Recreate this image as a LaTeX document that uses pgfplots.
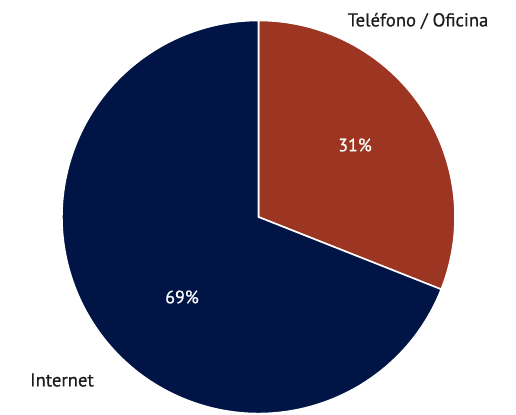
\documentclass[border=0pt]{standalone}
\usepackage{pgfplots}
\pgfplotsset{compat=1.18}
\usepackage{pgfplotstable}
\usetikzlibrary{calc}
\usepackage{fontspec}
\setmainfont{PT Sans}
\newfontfamily\medfont[FakeBold=0.6]{PT Sans}
\definecolor{navy}{HTML}{001545}
\definecolor{rust}{HTML}{9C3521}
\definecolor{txt}{HTML}{1E1E1E}
\pgfplotstableread{
value
31
69
}\piedata
\pgfplotstablegetelem{0}{value}\of\piedata \global\let\va\pgfplotsretval
\pgfplotstablegetelem{1}{value}\of\piedata \global\let\vb\pgfplotsretval
\pgfmathsetmacro{\angA}{90-3.6*\va}
\pgfmathsetmacro{\angB}{\angA-3.6*\vb}
\begin{document}
\begin{tikzpicture}
\useasboundingbox (0,0) rectangle (387pt,310.5pt);
\begin{axis}[
  hide axis, scale only axis,
  x=0.75pt, y=0.75pt,
  xmin=0, xmax=516, ymin=0, ymax=414,
  clip=false,
]
% red wedge
\filldraw[fill=rust, draw=white, line width=1.2pt]
  (axis cs:258.5,197) -- ++(90:147.4pt) arc[start angle=90, end angle=\angA, radius=147.4pt] -- cycle;
% navy wedge
\filldraw[fill=navy, draw=white, line width=1.2pt]
  (axis cs:258.5,197) -- ++(\angA:147.4pt) arc[start angle=\angA, end angle=\angB, radius=147.4pt] -- cycle;
\node[text=white, font=\medfont\fontsize{13.5}{15}\selectfont] at (axis cs:355,269) {\va\%};
\node[text=white, font=\medfont\fontsize{13.5}{15}\selectfont] at (axis cs:182,117) {\vb\%};
\node[text=txt, font=\medfont\fontsize{14}{16}\selectfont] at (axis cs:418,393) {Teléfono / Oficina};
\node[text=txt, font=\medfont\fontsize{14}{16}\selectfont] at (axis cs:62,34) {Internet};
\end{axis}
\end{tikzpicture}
\end{document}
